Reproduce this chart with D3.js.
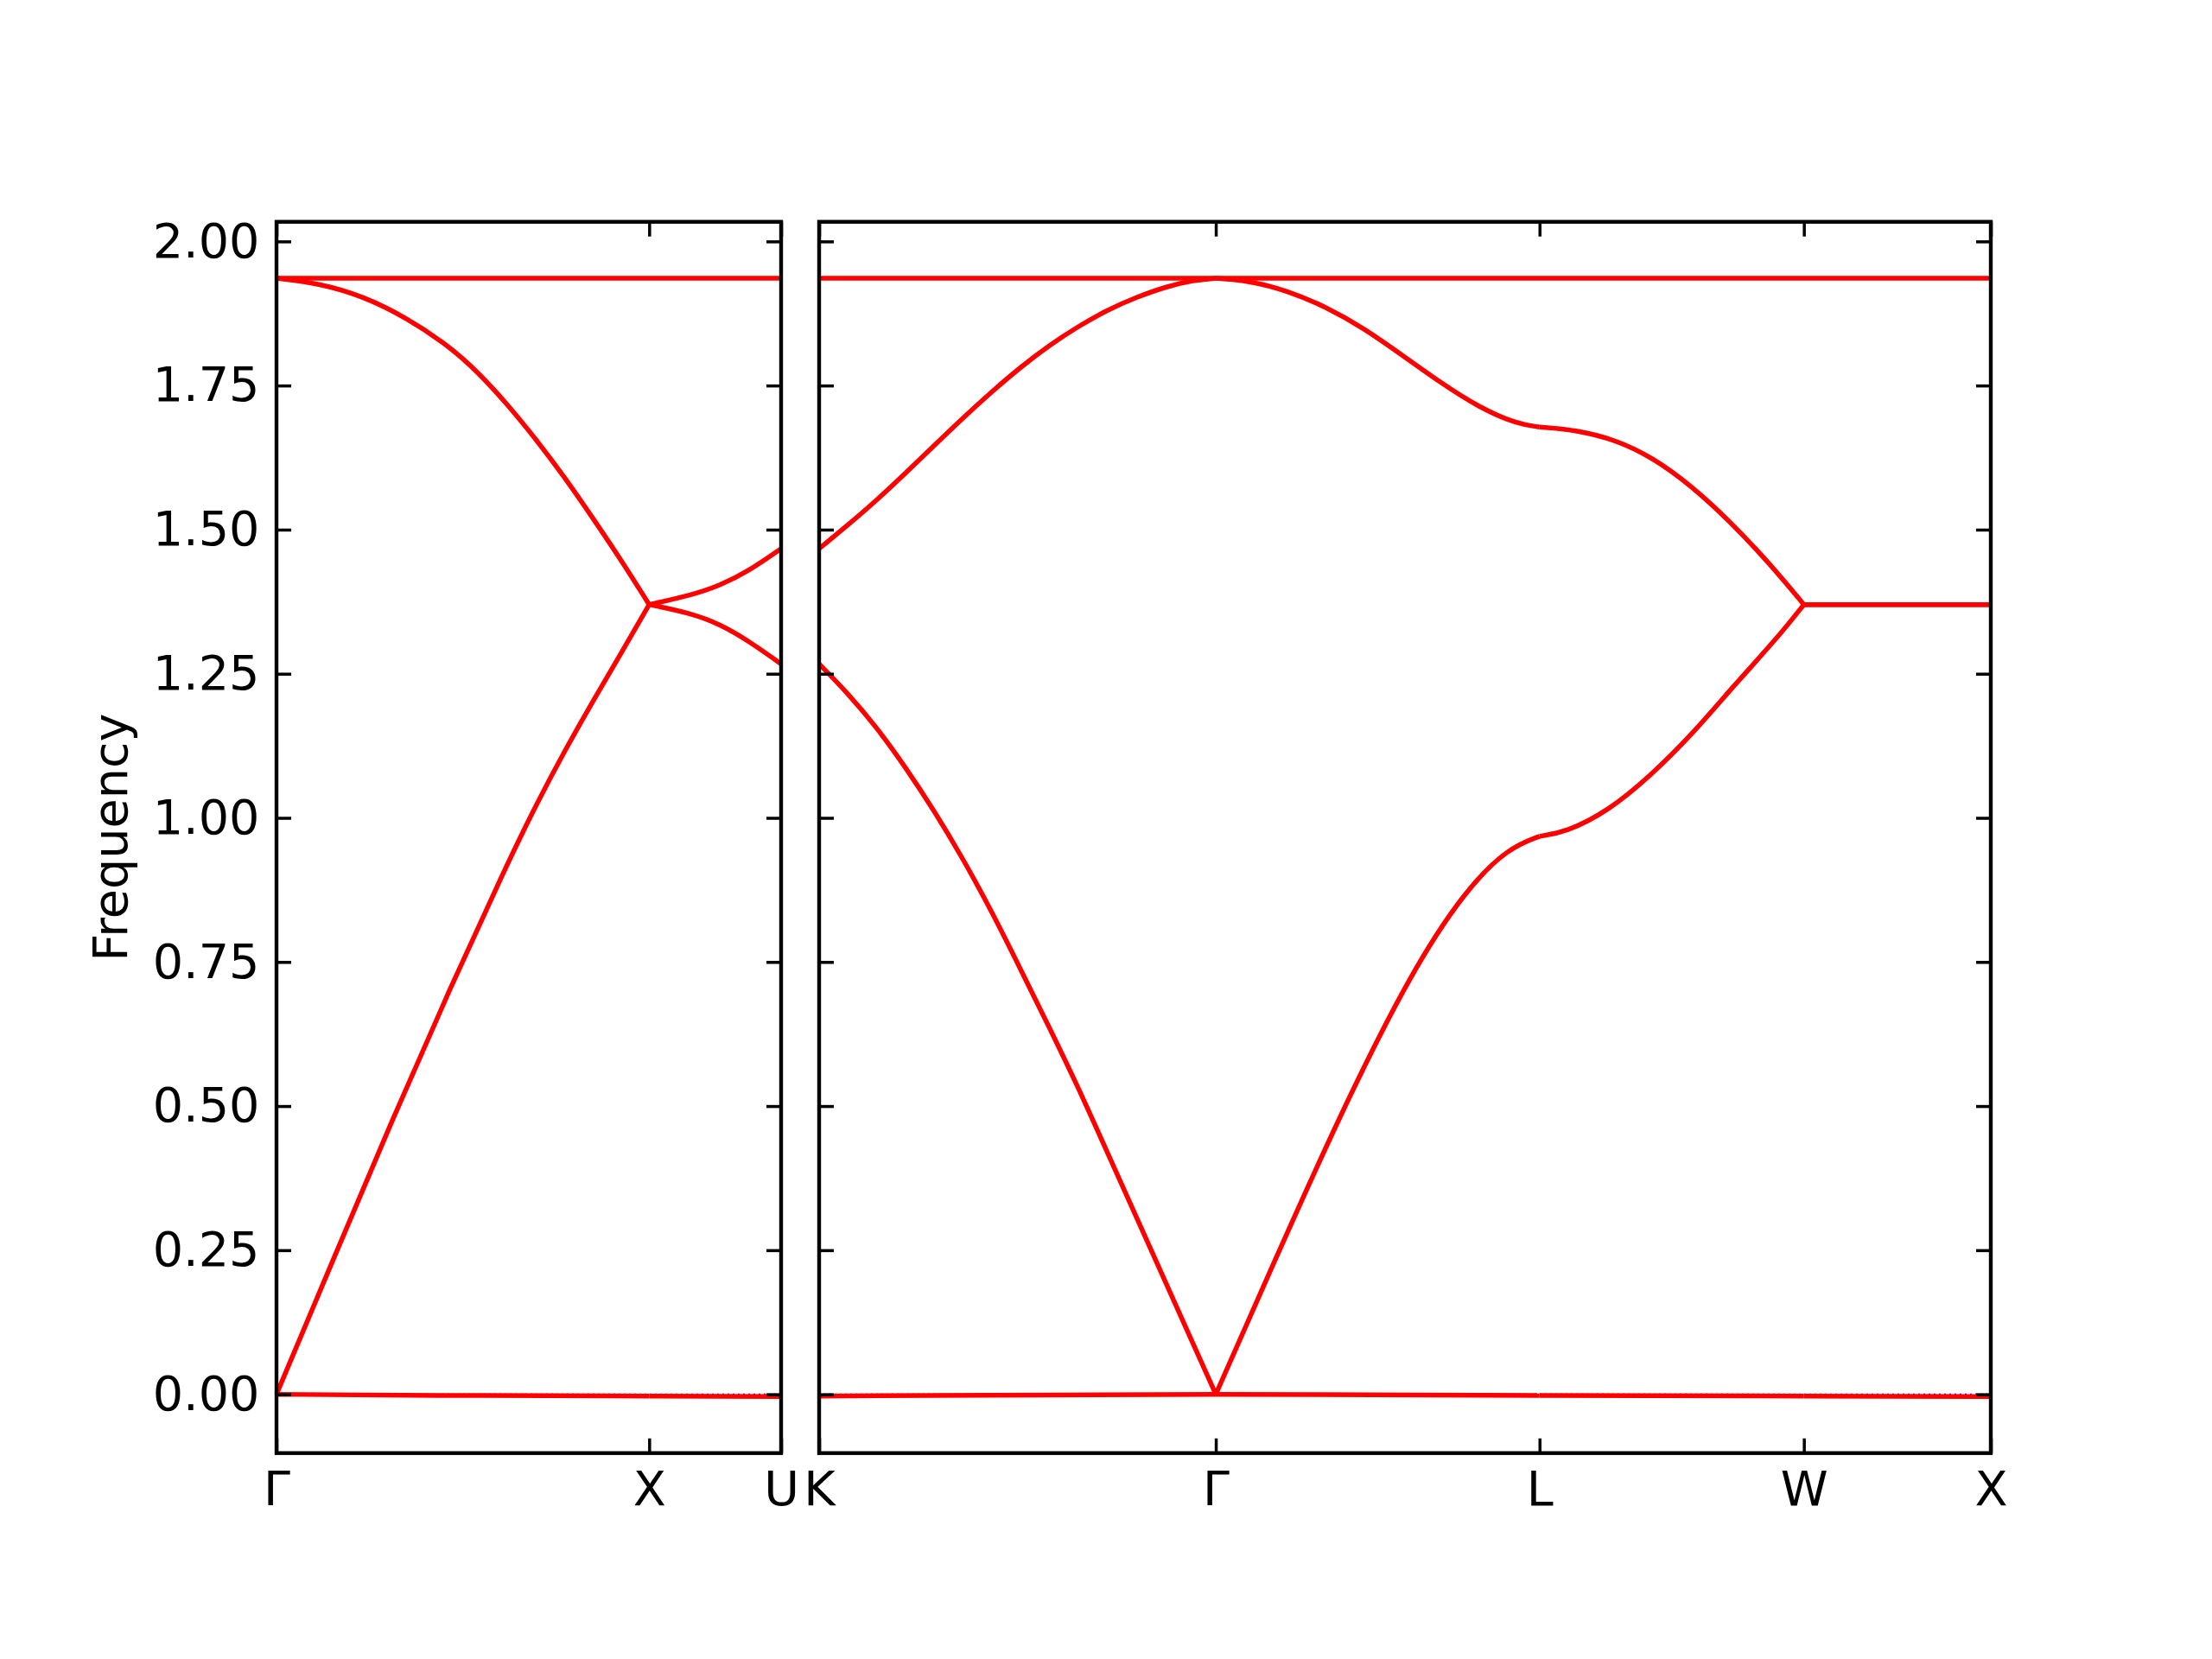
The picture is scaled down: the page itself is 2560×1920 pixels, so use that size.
<!DOCTYPE html>
<html>
<head>
<meta charset="utf-8">
<script src="https://cdn.jsdelivr.net/npm/d3@7"></script>
<style>
  html, body { margin: 0; padding: 0; background: #ffffff; }
  svg { display: block; }
  text { font-family: "DejaVu Sans", sans-serif; }
</style>
</head>
<body>
<script>
// ---------------- DATA ----------------
// High-symmetry points (labels + cumulative path distance, 2π/a units)
const leftLabels = ["Γ", "X", "U"];
const leftDist   = [0, 1.0, 1.354];
const rightLabels = ["K", "Γ", "L", "W", "X"];
const rightDist   = [0, 1.061, 1.927, 2.634, 3.134];

const yTicks = [0, 0.25, 0.5, 0.75, 1.0, 1.25, 1.5, 1.75, 2.0];
const yDomain = [-0.102, 2.034];

// Left panel bands: [k, frequency]
const leftFlat = [[0, 1.936], [1.354, 1.936]];
const leftZero = [[0, 0.0], [0.4, -0.002], [1.0, -0.003], [1.354, -0.004]];
const leftUpper = [
  [0, 1.936], [0.116, 1.927], [0.232, 1.905], [0.348, 1.868], [0.464, 1.818],
  [0.541, 1.773], [0.619, 1.718], [0.696, 1.657], [0.773, 1.591], [0.850, 1.519],
  [0.928, 1.444], [1.0, 1.370],
  [1.112, 1.386], [1.190, 1.403], [1.267, 1.428], [1.354, 1.467]
];
const leftLower = [
  [0, 0.0], [0.155, 0.238], [0.309, 0.474], [0.464, 0.702], [0.619, 0.920],
  [0.696, 1.022], [0.773, 1.116], [0.850, 1.204], [0.928, 1.289], [1.0, 1.370],
  [1.112, 1.355], [1.190, 1.336], [1.267, 1.307], [1.354, 1.267]
];

// Right panel bands: [k, frequency]
const rightFlat = [[0, 1.936], [3.134, 1.936]];
const rightZero = [[0, -0.003], [1.061, 0.0], [1.927, -0.002], [2.634, -0.003], [3.134, -0.004]];
const rightUpper = [
  [0, 1.467], [0.077, 1.508], [0.154, 1.551], [0.231, 1.598], [0.308, 1.646],
  [0.385, 1.694], [0.463, 1.740], [0.539, 1.782], [0.616, 1.820], [0.694, 1.853],
  [0.770, 1.881], [0.848, 1.903], [0.925, 1.921], [1.002, 1.933], [1.061, 1.936],
  [1.148, 1.932], [1.251, 1.915], [1.354, 1.887], [1.456, 1.850], [1.559, 1.803],
  [1.662, 1.755], [1.765, 1.712], [1.867, 1.683], [1.927, 1.678],
  [2.022, 1.673], [2.126, 1.657], [2.230, 1.625], [2.333, 1.576], [2.437, 1.514],
  [2.540, 1.443], [2.634, 1.370],
  [3.134, 1.370]
];
const rightLower = [
  [0, 1.267], [0.077, 1.216], [0.154, 1.157], [0.231, 1.088], [0.308, 1.012],
  [0.385, 0.929], [0.463, 0.836], [0.539, 0.737], [0.616, 0.636], [0.694, 0.531],
  [0.770, 0.421], [0.848, 0.308], [0.925, 0.197], [1.002, 0.085], [1.061, 0.0],
  [1.205, 0.212], [1.393, 0.485], [1.581, 0.730], [1.731, 0.877], [1.844, 0.948], [1.927, 0.968],
  [1.997, 0.975], [2.111, 1.012], [2.224, 1.073], [2.337, 1.146], [2.450, 1.232],
  [2.563, 1.312], [2.634, 1.370],
  [3.134, 1.370]
];

// ---------------- LAYOUT ----------------
const W = 2560, H = 1920;
const plotTop = 256.7, plotBottom = 1681.7;
const panels = [
  { x0: 320, x1: 904, labels: leftLabels, dist: leftDist, showY: true,
    bands: [leftFlat, leftZero, leftUpper, leftLower] },
  { x0: 948, x1: 2304, labels: rightLabels, dist: rightDist, showY: false,
    bands: [rightFlat, rightZero, rightUpper, rightLower] }
];

const fontSize = 55.6;
const tickLen = 17;
const svg = d3.select("body").append("svg")
  .attr("width", W).attr("height", H)
  .attr("viewBox", `0 0 ${W} ${H}`);
svg.append("rect").attr("width", W).attr("height", H).attr("fill", "#ffffff");

const y = d3.scaleLinear().domain(yDomain).range([plotBottom, plotTop]);

function splitSegments(points, breaks) {
  const inner = breaks.slice(1, -1);
  const segs = [];
  let cur = [];
  points.forEach(p => {
    cur.push(p);
    if (inner.some(b => Math.abs(b - p[0]) < 1e-6) && cur.length > 1) {
      segs.push(cur);
      cur = [p];
    }
  });
  if (cur.length > 1) segs.push(cur);
  return segs;
}

panels.forEach(P => {
  const x = d3.scaleLinear().domain([P.dist[0], P.dist[P.dist.length - 1]]).range([P.x0, P.x1]);
  const g = svg.append("g");

  // zero reference dotted line
  g.append("line")
    .attr("x1", P.x0).attr("x2", P.x1)
    .attr("y1", y(0)).attr("y2", y(0))
    .attr("stroke", "#0000ff").attr("stroke-width", 1.6)
    .attr("stroke-dasharray", "2,4");

  const line = d3.line()
    .x(d => x(d[0])).y(d => y(d[1]))
    .curve(d3.curveBasis);

  P.bands.forEach(band => {
    splitSegments(band, P.dist).forEach(seg => {
      g.append("path")
        .attr("d", line(seg))
        .attr("fill", "none")
        .attr("stroke", "#ff0000")
        .attr("stroke-width", 5.5)
        .attr("stroke-linejoin", "round")
        .attr("stroke-linecap", "butt");
    });
  });

  // axes (ticks inward)
  const axL = d3.axisLeft(y).tickValues(yTicks).tickSizeInner(-tickLen).tickSizeOuter(0)
    .tickPadding(19.5).tickFormat(P.showY ? d3.format(".2f") : "");
  const axR = d3.axisRight(y).tickValues(yTicks).tickSizeInner(-tickLen).tickSizeOuter(0).tickFormat("");
  const axB = d3.axisBottom(x).tickValues(P.dist).tickSizeInner(-tickLen).tickSizeOuter(0)
    .tickPadding(21).tickFormat((d, i) => P.labels[i]);
  const axT = d3.axisTop(x).tickValues(P.dist).tickSizeInner(-tickLen).tickSizeOuter(0).tickFormat("");

  const gl = g.append("g").attr("transform", `translate(${P.x0},0)`).call(axL);
  const gr = g.append("g").attr("transform", `translate(${P.x1},0)`).call(axR);
  const gb = g.append("g").attr("transform", `translate(0,${plotBottom})`).call(axB);
  const gt = g.append("g").attr("transform", `translate(0,${plotTop})`).call(axT);
  [gl, gr, gb, gt].forEach(a => {
    a.select(".domain").remove();
    a.selectAll(".tick line").attr("stroke", "#000").attr("stroke-width", 3.5);
    a.selectAll(".tick text").attr("fill", "#000")
      .style("font-family", "'DejaVu Sans', sans-serif")
      .style("font-size", fontSize + "px");
  });

  // frame
  g.append("rect")
    .attr("x", P.x0).attr("y", plotTop)
    .attr("width", P.x1 - P.x0).attr("height", plotBottom - plotTop)
    .attr("fill", "none").attr("stroke", "#000").attr("stroke-width", 4.4);
});

// y label
svg.append("text")
  .attr("transform", `translate(147,${(plotTop + plotBottom) / 2}) rotate(-90)`)
  .attr("text-anchor", "middle")
  .style("font-size", fontSize + "px")
  .attr("fill", "#000")
  .text("Frequency");
</script>
</body>
</html>
